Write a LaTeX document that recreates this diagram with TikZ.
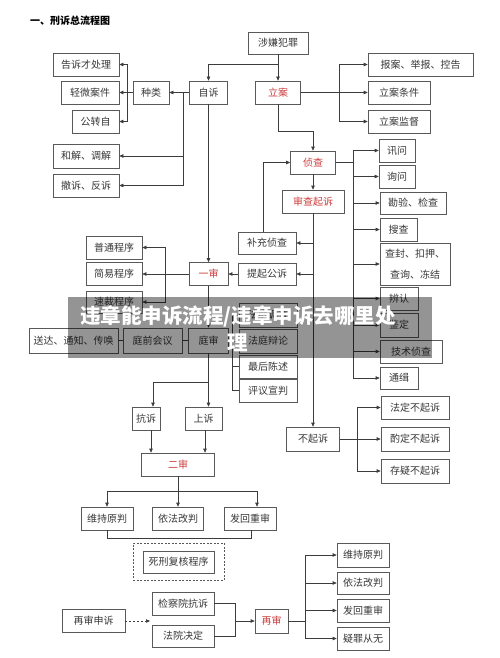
\documentclass[tikz,border=0pt]{standalone}
\usepackage{fontspec}
\newfontfamily\cjk{Noto Sans CJK SC}
\usetikzlibrary{arrows.meta,shadows}
\definecolor{redt}{RGB}{205,60,60}
\definecolor{lnc}{RGB}{60,60,60}
\begin{document}
\begin{tikzpicture}[x=1pt,y=-1pt,
  bx/.style={draw=black!65, line width=0.6pt, fill=white, inner sep=0pt,
    font=\cjk\fontsize{10}{12}\selectfont, text=black!78,
    drop shadow={shadow xshift=0.7pt,shadow yshift=-0.7pt,fill=black!35,opacity=0.6}},
  sz/.style 2 args={minimum width=#1,minimum height=#2},
  rd/.style={text=redt},
  ln/.style={draw=lnc, line width=0.6pt},
  ar/.style={ln, -{Triangle[length=4pt,width=3.4pt]}},
  dar/.style={ln, dash pattern=on 2pt off 2pt, -{Triangle[length=4pt,width=3.4pt]}}
]
\useasboundingbox[fill=white] (0,0) rectangle (500,658);

% title
\node[font=\cjk\bfseries\fontsize{10}{12}\selectfont, anchor=west, inner sep=0pt] (title) at (30,21) {一、刑诉总流程图};

% top
\node[bx,sz={60}{22}] (fz) at (278,43) {涉嫌犯罪};
\node[bx,sz={45}{23},rd] (la) at (278,92.5) {立案};
\node[bx,sz={105}{23}] (bj) at (420.5,64.5) {报案、举报、控告};
\node[bx,sz={62}{23}] (tj) at (399,92.5) {立案条件};
\node[bx,sz={62}{23}] (jd) at (399,121.5) {立案监督};

% self prosecution
\node[bx,sz={38}{23}] (zs) at (208.5,92.5) {自诉};
\node[bx,sz={36}{23}] (zl) at (151,92.5) {种类};
\node[bx,sz={66}{23}] (gs) at (86,64.5) {告诉才处理};
\node[bx,sz={58}{23}] (qw) at (90,92.5) {轻微案件};
\node[bx,sz={47}{23}] (gz) at (95.5,121.5) {公转自};
\node[bx,sz={66}{24}] (hj) at (86,156) {和解、调解};
\node[bx,sz={66}{23}] (cs) at (86,185.5) {撤诉、反诉};

% investigation
\node[bx,sz={45}{23},rd] (zc) at (313,162.5) {侦查};
\node[bx,sz={62}{23},rd] (sc) at (313,201.5) {审查起诉};
\node[bx,sz={36}{23}] (xw) at (397,150.5) {讯问};
\node[bx,sz={36}{23}] (xw2) at (397,176.5) {询问};
\node[bx,sz={66}{22}] (kj) at (413,203) {勘验、检查};
\node[bx,sz={37}{23}] (sch) at (398.5,229.5) {搜查};
\node[bx,sz={70}{42},align=center,font=\cjk\fontsize{10}{21}\selectfont] (cf) at (415,264) {查封、扣押、\\查询、冻结};
\node[bx,sz={38}{23}] (br) at (399,298.5) {辨认};
\node[bx,sz={38}{24}] (jdg) at (399,325) {鉴定};
\node[bx,sz={62}{23}] (js) at (411,351.5) {技术侦查};
\node[bx,sz={38}{22}] (tji) at (399,378) {通缉};

\node[bx,sz={58}{22}] (bc) at (267,243) {补充侦查};
\node[bx,sz={58}{22}] (tq) at (267,274) {提起公诉};

% first trial
\node[bx,sz={39}{23},rd] (ys) at (208.5,274) {一审};
\node[bx,sz={56}{23}] (pt) at (114,247.5) {普通程序};
\node[bx,sz={56}{23}] (jy) at (114,274) {简易程序};
\node[bx,sz={56}{22}] (scx) at (114,302) {速裁程序};

\node[bx,sz={40}{25}] (ts) at (208.5,340.5) {庭审};
\node[bx,sz={59}{25}] (tqh) at (152.5,340.5) {庭前会议};
\node[bx,sz={89}{25}] (sd) at (73.5,340.5) {送达、通知、传唤};
\node[bx,sz={58}{24}] (fd) at (268,315) {法庭调查};
\node[bx,sz={58}{24}] (fb) at (268,341) {法庭辩论};
\node[bx,sz={58}{23}] (zh) at (268,366.5) {最后陈述};
\node[bx,sz={58}{23}] (py) at (268,390.5) {评议宣判};

% appeals
\node[bx,sz={28}{23}] (ks) at (146,418.5) {抗诉};
\node[bx,sz={37}{23}] (ss) at (203.5,418.5) {上诉};
\node[bx,sz={73}{23},rd] (es) at (178,464.5) {二审};
\node[bx,sz={52}{23}] (wc) at (107,518.5) {维持原判};
\node[bx,sz={51}{23}] (yf) at (178,518.5) {依法改判};
\node[bx,sz={52}{23}] (fh) at (250,518.5) {发回重审};

\node[draw=black!65, line width=0.6pt, dash pattern=on 2pt off 1.5pt, sz={91}{37}, inner sep=0pt] (sxo) at (178.5,561.5) {};
\node[bx,sz={71}{22}] (sx) at (178.5,562) {死刑复核程序};

% retrial
\node[bx,sz={63}{23}] (zss) at (93.5,621) {再审申诉};
\node[bx,sz={62}{23}] (jcy) at (183,603.5) {检察院抗诉};
\node[bx,sz={62}{22}] (fy) at (183,636) {法院决定};
\node[bx,sz={33}{24},rd] (zsh) at (271.5,621) {再审};
\node[bx,sz={52}{24}] (r1) at (363,555) {维持原判};
\node[bx,sz={52}{22}] (r2) at (363,583) {依法改判};
\node[bx,sz={52}{23}] (r3) at (363,610.5) {发回重审};
\node[bx,sz={52}{23}] (r4) at (363,638.5) {疑罪从无};

% non-prosecution
\node[bx,sz={53}{24}] (bq) at (313,439) {不起诉};
\node[bx,sz={68}{23}] (fd1) at (415,407.5) {法定不起诉};
\node[bx,sz={68}{24}] (zd) at (415,439) {酌定不起诉};
\node[bx,sz={68}{24}] (cy) at (415,471) {存疑不起诉};

% junctions
\coordinate (j1) at (278,64);
\coordinate (j2) at (183,92.5);
\coordinate (j3) at (127,92.5);
\coordinate (j4) at (339,92.5);
\coordinate (j5) at (278,131);
\coordinate (j6) at (353,162.5);
\coordinate (j7) at (313,243);
\coordinate (j8) at (313,274);
\coordinate (j9) at (263,232);
\coordinate (j10) at (165,274);
\coordinate (j11) at (232,340.5);
\coordinate (j12) at (208.5,382);
\coordinate (j15) at (178,491);
\coordinate (j16) at (150,621);
\coordinate (j17) at (235,621);
\coordinate (j18) at (305,621);
\coordinate (j19) at (357,439);

% connectors: top
\draw[ar] (fz.south) -- (la.north);
\draw[ar] (j1) -| (zs.north);
\draw[ln] (la.east) -- (j4);
\draw[ar] (j4) |- (bj.west);
\draw[ar] (j4) -- (tj.west);
\draw[ar] (j4) |- (jd.west);
\draw[ar] (la.south) -- (j5) -| (zc.north);

% self prosecution
\draw[ar] (zs.west) -- (zl.east);
\draw[ar] (j2) |- (hj.east);
\draw[ar] (j2) |- (cs.east);
\draw[ln] (zl.west) -- (j3);
\draw[ar] (j3) |- (gs.east);
\draw[ar] (j3) -- (qw.east);
\draw[ar] (j3) |- (gz.east);

% investigation
\draw[ar] (zc.south) -- (sc.north);
\draw[ln] (zc.east) -- (j6);
\foreach \n in {xw,xw2,kj,sch,cf,br,jdg,js,tji} \draw[ar] (j6) |- (\n.west);
\draw[ar] (sc.south) -- (bq.north);
\draw[ar] (j7) -- (bc.east);
\draw[ar] (j8) -- (tq.east);
\draw[ar] (j9) |- (zc.west);

% first trial
\draw[ar] (zs.south) -- (ys.north);
\draw[ar] (tq.west) -- (ys.east);
\draw[ar] (ys.west) -- (jy.east);
\draw[ar] (j10) |- (pt.east);
\draw[ar] (j10) |- (scx.east);
\draw[ar] (ys.south) -- (ts.north);
\draw[ln] (sd.east) -- (tqh.west);
\draw[ln] (tqh.east) -- (ts.west);
\draw[ln] (ts.east) -- (j11);
\foreach \n in {fd,fb,zh,py} \draw[ln] (j11) |- (\n.west);

% appeals
\draw[ar] (ts.south) -- (ts.south |- ss.north);
\draw[ar] (j12) -| ([xshift=7pt]ks.north);
\draw[ar] ([xshift=5pt]ks.south) -- ([xshift=5pt]ks.south |- es.north);
\draw[ar] ([xshift=1.5pt]ss.south) -- ([xshift=1.5pt]ss.south |- es.north);
\draw[ln] (es.south) -- (j15);
\draw[ar] (j15) -| (wc.north);
\draw[ar] (j15) -- (yf.north);
\draw[ar] (j15) -| ([xshift=7pt]fh.north);
\draw[ln] (wc.south) -- ++(0,8) -| ([xshift=1pt]fh.south);

% retrial
\draw[dar] (zss.east) -- (j16);
\draw[ln] (jcy.east) -| (j17);
\draw[ln] (fy.east) -| (j17);
\draw[ar] (j17) -- (zsh.west);
\draw[ln] (zsh.east) -- (j18);
\foreach \n in {r1,r2,r3,r4} \draw[ar] (j18) |- (\n.west);

% non-prosecution
\draw[ln] (bq.east) -- (j19);
\draw[ar] (j19) |- (fd1.west);
\draw[ar] (j19) -- (zd.west);
\draw[ar] (j19) |- (cy.west);

% watermark
\fill[black, opacity=0.42] (68,297) rectangle (432,358);
\node[font=\cjk\bfseries\fontsize{20.5}{27}\selectfont, text=white, align=center, inner sep=0pt] (wm) at (238,328.5) {违章能申诉流程/违章申诉去哪里处\\理};
\end{tikzpicture}
\end{document}
